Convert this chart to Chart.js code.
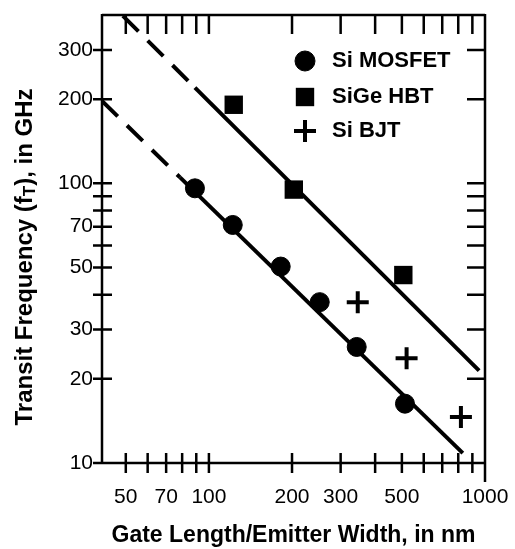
<!DOCTYPE html>
<html>
<head>
<meta charset="utf-8">
<script src="https://cdn.jsdelivr.net/npm/chart.js@4.4.1/dist/chart.umd.min.js"></script>
<style>
  body { margin: 0; background: #fff; }
  #box { width: 515px; height: 549px; }
</style>
</head>
<body>
<div id="box"><canvas id="chartFt" width="515" height="549"></canvas></div>
<script>
// points mesures (nm, GHz)
const mosfetLength = [89, 122, 182, 252, 343, 513];
const mosfetFt = [96, 71, 50.4, 37.6, 26, 16.3];
const hbtWidth = [123, 203, 506];
const hbtFt = [191, 95, 47];
const bjtWidth = [346, 520, 818];
const bjtFt = [37.6, 23.7, 14.6];

// droites de tendance : 1er segment en tirets, le reste en trait plein
const mosfetFitX = [41, 78.6, 831];
const mosfetFitY = [197, 105, 10.85];
const hbtFitX = [48.8, 89, 952];
const hbtFitY = [397, 220, 21.4];

// graduations
const xTicks = [50, 60, 70, 80, 90, 100, 200, 300, 400, 500, 600, 700, 800, 900, 1000];
const xLabels = [50, 70, 100, 200, 300, 500, 1000];
const yTicks = [10, 20, 30, 40, 50, 60, 70, 80, 90, 100, 200, 300];
const yLabels = [10, 20, 30, 50, 70, 100, 200, 300];

const legendItems = [
    { label: 'Si MOSFET', style: 'circle', radius: 10, width: 1, y: 61 },
    { label: 'SiGe HBT', style: 'rect', radius: 13, width: 0, y: 97 },
    { label: 'Si BJT', style: 'cross', radius: 11, width: 4, y: 131 }
];

function toPoints(xs, ys) {
    return xs.map((v, i) => ({ x: v, y: ys[i] }));
}

const police = '"Liberation Sans", Arial, Helvetica, sans-serif';

// cadre, graduations, legende et titre vertical
const cadrePlugin = {
    id: 'cadre',
    afterDraw(chart) {
        const ctx = chart.ctx;
        const { left, right, top, bottom } = chart.chartArea;
        const xs = chart.scales.x, ys = chart.scales.y;
        ctx.save();
        ctx.strokeStyle = '#000';
        ctx.lineWidth = 2.5;
        ctx.beginPath();
        ctx.moveTo(left, top); ctx.lineTo(right, top);
        ctx.moveTo(left, top - 1); ctx.lineTo(left, bottom);
        ctx.moveTo(left, bottom); ctx.lineTo(right, bottom);
        ctx.moveTo(right, top - 1); ctx.lineTo(right, bottom + 19);
        xTicks.forEach(v => {
            if (v >= 1000) return;
            const px = xs.getPixelForValue(v);
            ctx.moveTo(px, bottom - 10); ctx.lineTo(px, bottom + 10);
            ctx.moveTo(px, top); ctx.lineTo(px, top + 19);
        });
        yTicks.forEach(v => {
            const py = ys.getPixelForValue(v);
            if (v === 10) {
                ctx.moveTo(left - 9, py); ctx.lineTo(left, py);
                return;
            }
            ctx.moveTo(left - 9, py); ctx.lineTo(left + 10, py);
            ctx.moveTo(right - 18, py); ctx.lineTo(right, py);
        });
        ctx.stroke();

        // legende
        ctx.fillStyle = '#000';
        ctx.font = 'bold 22px ' + police;
        ctx.textBaseline = 'middle';
        ctx.textAlign = 'left';
        legendItems.forEach(it => {
            ctx.lineWidth = it.width;
            Chart.helpers.drawPoint(ctx, { pointStyle: it.style, radius: it.radius, borderWidth: it.width, rotation: 0 }, 305, it.y);
            ctx.fillText(it.label, 332, it.y - 0.5);
        });

        // titre axe y avec indice T
        ctx.translate(25, 257);
        ctx.rotate(-Math.PI / 2);
        const grand = 'bold 24px ' + police;
        const petit = 'bold 17px ' + police;
        const a = 'Transit Frequency (f', t = 'T', b = '), in GHz';
        ctx.font = grand;
        const wa = ctx.measureText(a).width, wb = ctx.measureText(b).width;
        ctx.font = petit;
        const wt = ctx.measureText(t).width;
        let x0 = -(wa + wt + wb) / 2;
        ctx.font = grand;
        ctx.fillText(a, x0, 0);
        ctx.font = petit;
        ctx.fillText(t, x0 + wa, 5);
        ctx.font = grand;
        ctx.fillText(b, x0 + wa + wt, 0);
        ctx.restore();
    }
};

const ctxFt = document.getElementById('chartFt').getContext('2d');

new Chart(ctxFt, {
    type: 'scatter',
    data: {
        datasets: [
            {
                label: 'Si MOSFET',
                data: toPoints(mosfetLength, mosfetFt),
                pointStyle: 'circle',
                pointRadius: 9.5,
                pointBorderWidth: 1,
                backgroundColor: '#000',
                borderColor: '#000'
            },
            {
                label: 'SiGe HBT',
                data: toPoints(hbtWidth, hbtFt),
                pointStyle: 'rect',
                pointRadius: 13,
                pointBorderWidth: 0,
                backgroundColor: '#000',
                borderColor: '#000'
            },
            {
                label: 'Si BJT',
                data: toPoints(bjtWidth, bjtFt),
                pointStyle: 'cross',
                pointRadius: 11,
                pointBorderWidth: 4,
                backgroundColor: '#000',
                borderColor: '#000'
            },
            {
                label: 'fit MOSFET',
                data: toPoints(mosfetFitX, mosfetFitY),
                showLine: true,
                pointRadius: 0,
                borderColor: '#000',
                borderWidth: 4,
                segment: { borderDash: c => c.p0DataIndex === 0 ? [22, 13] : undefined }
            },
            {
                label: 'fit HBT',
                data: toPoints(hbtFitX, hbtFitY),
                showLine: true,
                pointRadius: 0,
                borderColor: '#000',
                borderWidth: 4,
                segment: { borderDash: c => c.p0DataIndex === 0 ? [22, 13] : undefined }
            }
        ]
    },
    options: {
        responsive: false,
        animation: false,
        devicePixelRatio: 1,
        layout: { padding: { top: 11, right: 30, left: 0, bottom: 0 } },
        plugins: {
            legend: { display: false },
            tooltip: { enabled: false }
        },
        scales: {
            x: {
                type: 'logarithmic',
                min: 41,
                max: 1000,
                afterBuildTicks: s => { s.ticks = xTicks.map(v => ({ value: v })); },
                afterFit: s => { s.height = 86; s.paddingLeft = 0; s.paddingRight = 0; },
                grid: { display: false, drawTicks: false },
                border: { display: false },
                ticks: {
                    autoSkip: false,
                    maxRotation: 0,
                    padding: 22,
                    color: '#000',
                    font: { family: police, size: 21 },
                    callback: v => xLabels.includes(v) ? String(v) : ''
                },
                title: {
                    display: true,
                    text: 'Gate Length/Emitter Width, in nm',
                    color: '#000',
                    font: { family: police, size: 23, weight: 'bold' },
                    padding: { top: 0, bottom: 0 }
                }
            },
            y: {
                type: 'logarithmic',
                min: 10,
                max: 400,
                afterBuildTicks: s => { s.ticks = yTicks.map(v => ({ value: v })); },
                afterFit: s => { s.width = 102; s.paddingTop = 0; s.paddingBottom = 0; },
                grid: { display: false, drawTicks: false },
                border: { display: false },
                ticks: {
                    autoSkip: false,
                    padding: 9,
                    color: '#000',
                    font: { family: police, size: 21 },
                    callback: v => yLabels.includes(v) ? String(v) : ''
                }
            }
        }
    },
    plugins: [cadrePlugin]
});
</script>
</body>
</html>
